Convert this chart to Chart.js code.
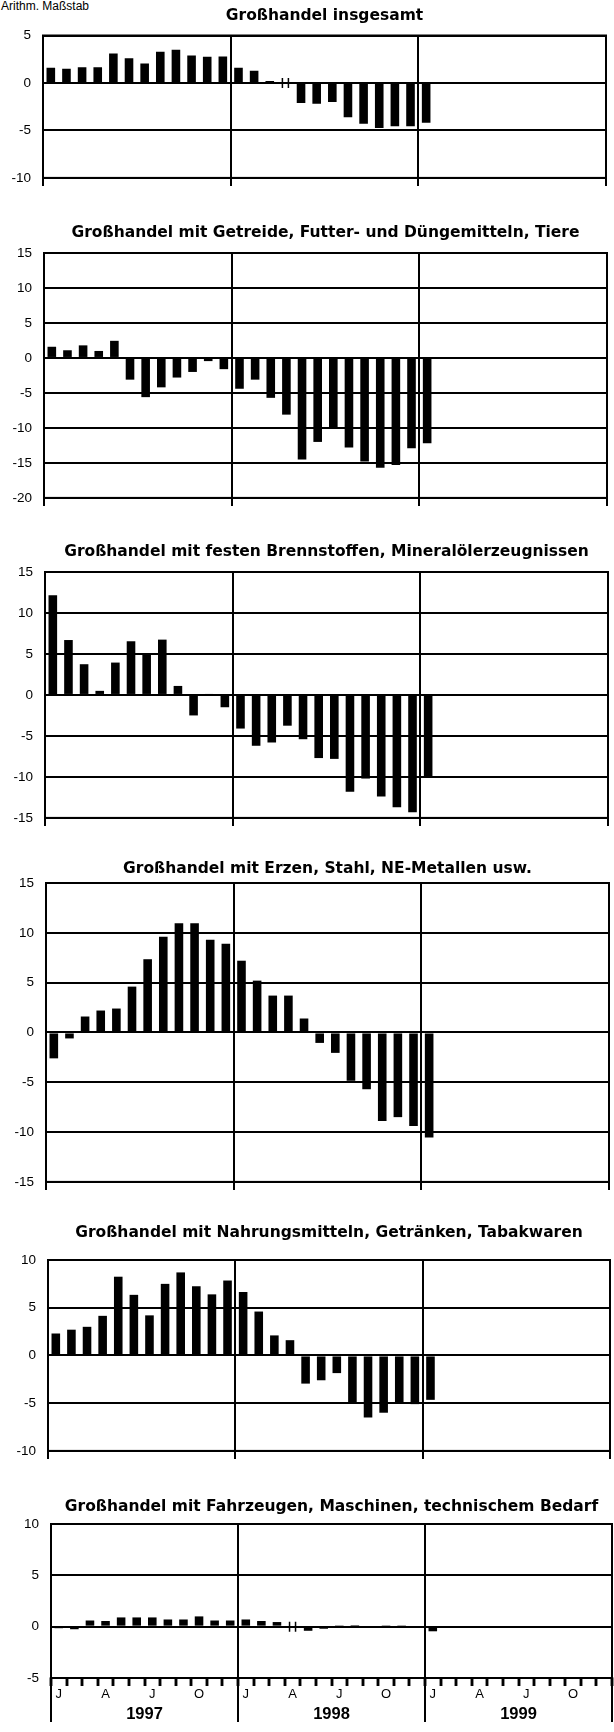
<!DOCTYPE html>
<html lang="de">
<head>
<meta charset="UTF-8">
<title>Großhandel</title>
<script src="https://cdn.jsdelivr.net/npm/chart.js@4.4.0/dist/chart.umd.min.js"></script>
<style>
  html, body { margin: 0; padding: 0; background: #fff; }
  #blatt { position: relative; width: 614px; height: 1732px; overflow: hidden; }
  #blatt canvas { position: absolute; left: 0; }
  #massstab { position: absolute; left: 1px; top: 0; font: 12px "Liberation Sans", Arial, sans-serif; line-height: 12px; color: #000; }
</style>
</head>
<body>
<div id="blatt">
  <div id="massstab">Arithm. Maßstab</div>
  <canvas id="c1" width="614" height="194" style="top:4px"></canvas>
  <canvas id="c2" width="614" height="297" style="top:221px"></canvas>
  <canvas id="c3" width="614" height="298" style="top:540px"></canvas>
  <canvas id="c4" width="614" height="345" style="top:857px"></canvas>
  <canvas id="c5" width="614" height="250" style="top:1221px"></canvas>
  <canvas id="c6" width="614" height="231" style="top:1495px"></canvas>
</div>

<script>
// Monate Jan 1997 bis Dez 1999
var monate = ['Jan 97','Feb 97','Mär 97','Apr 97','Mai 97','Jun 97','Jul 97','Aug 97','Sep 97','Okt 97','Nov 97','Dez 97',
              'Jan 98','Feb 98','Mär 98','Apr 98','Mai 98','Jun 98','Jul 98','Aug 98','Sep 98','Okt 98','Nov 98','Dez 98',
              'Jan 99','Feb 99','Mär 99','Apr 99','Mai 99','Jun 99','Jul 99','Aug 99','Sep 99','Okt 99','Nov 99','Dez 99'];
var monatsKuerzel = ['J','','','A','','','J','','','O','','',
                     'J','','','A','','','J','','','O','','',
                     'J','','','A','','','J','','','O','',''];
var jahre = ['1997', '1998', '1999'];

// Veränderung gegenüber Vorjahresmonat in %
var insgesamt   = [1.6, 1.5, 1.65, 1.65, 3.1, 2.6, 2.05, 3.3, 3.5, 2.9, 2.75, 2.8,
                   1.6, 1.3, 0.2, null, -2.1, -2.2, -2.0, -3.6, -4.3, -4.75, -4.55, -4.55,
                   -4.2];
var getreide    = [1.6, 1.1, 1.8, 1.0, 2.45, -3.1, -5.6, -4.2, -2.8, -2.0, -0.45, -1.6,
                   -4.4, -3.1, -5.7, -8.1, -14.5, -12.0, -10.1, -12.8, -14.8, -15.7, -15.3, -12.9,
                   -12.2];
var brennstoffe = [12.15, 6.7, 3.75, 0.5, 3.95, 6.55, 5.0, 6.75, 1.1, -2.5, 0.1, -1.5,
                   -4.1, -6.2, -5.8, -3.75, -5.4, -7.7, -7.8, -11.8, -10.2, -12.4, -13.7, -14.3,
                   -10.1];
var erze        = [-2.6, -0.6, 1.6, 2.2, 2.4, 4.6, 7.35, 9.6, 10.95, 10.95, 9.3, 8.9,
                   7.2, 5.2, 3.7, 3.7, 1.4, -1.05, -2.05, -4.85, -5.7, -8.9, -8.5, -9.4,
                   -10.55];
var nahrung     = [2.3, 2.7, 3.0, 4.15, 8.25, 6.35, 4.2, 7.5, 8.7, 7.25, 6.4, 7.85,
                   6.65, 4.6, 2.1, 1.6, -2.95, -2.6, -1.85, -4.9, -6.5, -6.0, -5.0, -5.1,
                   -4.65];
var fahrzeuge   = [-0.15, -0.25, 0.6, 0.55, 0.9, 0.9, 0.9, 0.7, 0.7, 1.0, 0.6, 0.6,
                   0.7, 0.55, 0.45, null, -0.4, -0.2, 0.05, 0.15, -0.05, 0.05, 0.05, 0.1,
                   -0.45];

// Bruch in der Reihe (April 1998)
var bruchstellen = [15];

Chart.defaults.font.family = '"Liberation Sans", Arial, sans-serif';
Chart.defaults.color = '#000';

var rahmen = {
  id: 'rahmen',
  afterDraw: function(chart) {
    var a = chart.chartArea, ctx = chart.ctx;
    ctx.save();
    ctx.strokeStyle = '#000';
    ctx.lineWidth = 2;
    ctx.strokeRect(a.left, a.top, a.right - a.left, a.bottom - a.top);
    ctx.restore();
  }
};

var bruchZeichen = {
  id: 'bruch',
  afterDatasetsDraw: function(chart, args, opts) {
    var stellen = opts.stellen || [];
    var ctx = chart.ctx;
    var y0 = chart.scales.y.getPixelForValue(0);
    ctx.save();
    ctx.strokeStyle = '#000';
    ctx.lineWidth = 1.5;
    for (var i = 0; i < stellen.length; i++) {
      var x = chart.scales.x.getPixelForValue(stellen[i]);
      ctx.beginPath();
      ctx.moveTo(x - 3, y0 - 5); ctx.lineTo(x - 3, y0 + 5);
      ctx.moveTo(x + 3, y0 - 5); ctx.lineTo(x + 3, y0 + 5);
      ctx.stroke();
    }
    ctx.restore();
  }
};

// Monatsstriche und lange Jahrestrennlinien unter der letzten Grafik
var jahreslinien = {
  id: 'jahreslinien',
  afterDraw: function(chart, args, opts) {
    if (!opts.an) return;
    var a = chart.chartArea, ctx = chart.ctx;
    var n = monate.length;
    ctx.save();
    ctx.strokeStyle = '#000';
    ctx.lineWidth = 2.5;
    for (var i = 0; i <= n; i++) {
      var xm = Math.round(a.left + (a.right - a.left) * i / n);
      ctx.beginPath();
      ctx.moveTo(xm, a.bottom - 1);
      ctx.lineTo(xm, a.bottom + 8);
      ctx.stroke();
    }
    ctx.lineWidth = 2;
    for (var k = 0; k <= jahre.length; k++) {
      var x = a.left + (a.right - a.left) * k / jahre.length;
      ctx.beginPath();
      ctx.moveTo(x, a.bottom);
      ctx.lineTo(x, chart.height - 4);
      ctx.stroke();
    }
    ctx.restore();
  }
};

function jahrFarbe(ctx) {
  return (ctx.index === undefined || ctx.index % 12 === 0) ? '#000' : 'rgba(0,0,0,0)';
}

function balkenDiagramm(id, titel, werte, yMin, yMax, rand, mitMonaten, mitBruch) {
  var skalen = {
    x: {
      type: 'category',
      offset: true,
      grid: { offset: true, color: jahrFarbe, tickColor: jahrFarbe, lineWidth: 2, tickLength: 8 },
      ticks: { display: false },
      border: { display: false },
      afterFit: function(s) { s.height = 10; }
    },
    y: {
      min: yMin,
      max: yMax,
      ticks: { stepSize: 5, color: '#000', font: { size: 13.5 }, padding: 12 },
      grid: { color: '#000', lineWidth: 2, drawTicks: false },
      border: { display: false },
      afterFit: function(s) { s.width = 40; }
    }
  };

  if (mitMonaten) {
    skalen.x.grid = {
      offset: true, color: jahrFarbe, tickColor: '#000', tickLength: 8, tickWidth: 2.5,
      lineWidth: 2
    };
    skalen.x.ticks = {
      display: true, autoSkip: false, maxRotation: 0, padding: 1,
      font: { size: 13 }, color: '#000',
      callback: function(v, i) { return monatsKuerzel[i]; }
    };
    skalen.x.afterFit = function(s) { s.height = 24; };
    skalen.x2 = {
      type: 'category',
      labels: jahre,
      position: 'bottom',
      offset: true,
      weight: 1,
      grid: { display: false, drawTicks: false },
      border: { display: false },
      ticks: { autoSkip: false, maxRotation: 0, padding: 3, color: '#000', font: { size: 16.5, weight: 'bold' } },
      afterFit: function(s) { s.height = 24; }
    };
  }

  new Chart(document.getElementById(id), {
    type: 'bar',
    data: {
      labels: monate,
      datasets: [{
        data: werte,
        backgroundColor: '#000',
        barPercentage: 0.55,
        categoryPercentage: 1,
        xAxisID: 'x',
        yAxisID: 'y'
      }]
    },
    options: {
      responsive: false,
      animation: false,
      events: [],
      layout: { padding: { left: rand.links - 40, right: 614 - rand.rechts, top: 0, bottom: 0 } },
      plugins: {
        legend: { display: false },
        tooltip: { enabled: false },
        title: {
          display: true,
          fullSize: false,
          text: titel,
          color: '#000',
          font: { family: '"DejaVu Sans", sans-serif', size: 15.5, weight: 'bold' },
          padding: { top: 3, bottom: rand.titel }
        },
        bruch: { stellen: mitBruch ? bruchstellen : [] },
        jahreslinien: { an: mitMonaten }
      },
      scales: skalen
    },
    plugins: [rahmen, bruchZeichen, jahreslinien]
  });
}

balkenDiagramm('c1', 'Großhandel insgesamt', insgesamt, -10, 5,
  { links: 43, rechts: 606, titel: 9.9 }, false, true);
balkenDiagramm('c2', 'Großhandel mit Getreide, Futter- und Düngemitteln, Tiere', getreide, -20, 15,
  { links: 44, rechts: 607, titel: 10.4 }, false, false);
balkenDiagramm('c3', 'Großhandel mit festen Brennstoffen, Mineralölerzeugnissen', brennstoffe, -15, 15,
  { links: 45, rechts: 608, titel: 10.4 }, false, false);
balkenDiagramm('c4', 'Großhandel mit Erzen, Stahl, NE-Metallen usw.', erze, -15, 15,
  { links: 46, rechts: 609, titel: 4.4 }, false, false);
balkenDiagramm('c5', 'Großhandel mit Nahrungsmitteln, Getränken, Tabakwaren', nahrung, -10, 10,
  { links: 48, rechts: 610, titel: 17.4 }, false, false);
balkenDiagramm('c6', 'Großhandel mit Fahrzeugen, Maschinen, technischem Bedarf', fahrzeuge, -5, 10,
  { links: 51, rechts: 612, titel: 7.4 }, true, true);
</script>
</body>
</html>
